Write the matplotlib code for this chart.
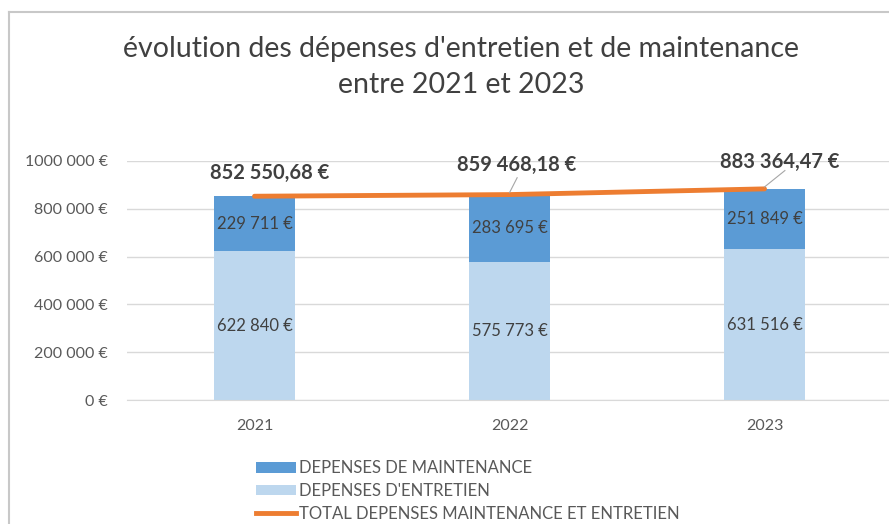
import matplotlib

matplotlib.use("Agg")
import matplotlib.pyplot as plt
from matplotlib.lines import Line2D
from matplotlib.patches import Patch

years = ["2021", "2022", "2023"]
entretien = [622840, 575773, 631516]
maintenance = [229711, 283695, 251849]
totals = [852550.68, 859468.18, 883364.47]
y_ticks = [0, 200000, 400000, 600000, 800000, 1000000]
y_tick_labels = ["0 €", "200 000 €", "400 000 €", "600 000 €", "800 000 €", "1000 000 €"]

C_MAINT = "#5B9BD5"
C_ENTR = "#BDD7EE"
C_TOTAL = "#ED7D31"
TXT = "#595959"
DARK = "#404040"

plt.rcParams["font.family"] = ["Lato", "DejaVu Sans"]


def euro(v):
    return f"{v:,.0f}".replace(",", " ") + " €"


def euro_dec(v):
    return f"{v:,.2f}".replace(",", " ").replace(".", ",") + " €"


W, H = 889, 524
fig = plt.figure(figsize=(W / 100, H / 100), dpi=100)

# chart area frame (top and left edges visible)
fig.add_artist(Line2D([9 / W, 9 / W], [0, 1 - 12 / H], color="#C8C8C8", lw=1.5))
fig.add_artist(Line2D([9 / W, 1], [1 - 12 / H, 1 - 12 / H], color="#C8C8C8", lw=1.5))

# plot area: x 127..892 px, y 161..400 px
ax = fig.add_axes([127 / W, 1 - 400 / H, 765 / W, 239 / H])
x = list(range(len(years)))
bw = 0.32
ax.bar(x, entretien, bw, color=C_ENTR, zorder=2)
ax.bar(x, maintenance, bw, bottom=entretien, color=C_MAINT, zorder=2)
ax.plot(x, totals, color=C_TOTAL, lw=3.5, solid_capstyle="round", zorder=3)

for i in x:
    ax.text(i, entretien[i] / 2, euro(entretien[i]), ha="center", va="center",
            fontsize=12, color=DARK, zorder=4)
    ax.text(i, entretien[i] + maintenance[i] / 2, euro(maintenance[i]), ha="center",
            va="center", fontsize=12, color=DARK, zorder=4)

# total labels with leader lines
label_pos = [(0.06, 952000), (0.03, 985000), (0.06, 995000)]
for i, (dx, ly) in enumerate(label_pos):
    ax.text(i + dx, ly, euro_dec(totals[i]), ha="center", va="center",
            fontsize=14.5, fontweight="bold", color=DARK, zorder=5, clip_on=False)
leaders = [(1, 1.03, 930000), (2, 2.08, 960000)]
for i, lx, ly in leaders:
    ax.plot([i, lx], [totals[i] + 8000, ly], color="#A6A6A6", lw=0.8, zorder=4)

ax.set_xlim(-0.5, 2.5)
ax.set_ylim(0, 1000000)
ax.set_yticks(y_ticks)
ax.set_yticklabels(y_tick_labels)
ax.set_xticks(x)
ax.set_xticklabels(years)
ax.tick_params(axis="both", length=0, colors=TXT, labelsize=11.5)
ax.tick_params(axis="y", pad=14)
ax.tick_params(axis="x", pad=14)
ax.yaxis.grid(True, color="#D9D9D9", lw=1, zorder=0)
for s in ["top", "right", "left"]:
    ax.spines[s].set_visible(False)
ax.spines["bottom"].set_color("#D9D9D9")
ax.set_facecolor("none")

fig.text(461 / W, 1 - 67 / H, "évolution des dépenses d'entretien et de maintenance\nentre 2021 et 2023",
         ha="center", va="center", fontsize=20.5, color=DARK, linespacing=1.45)

handles = [
    Patch(facecolor=C_MAINT, edgecolor="none"),
    Patch(facecolor=C_ENTR, edgecolor="none"),
    Line2D([0], [0], color=C_TOTAL, lw=3.5),
]
labels = [
    "DEPENSES DE MAINTENANCE",
    "DEPENSES D'ENTRETIEN",
    "TOTAL DEPENSES MAINTENANCE ET ENTRETIEN",
]
fig.legend(handles, labels, loc="upper left", bbox_to_anchor=(248 / W, 1 - 452 / H),
           frameon=False, fontsize=12, labelcolor=TXT, handlelength=2.4,
           handleheight=0.6, handletextpad=0.15, labelspacing=0.4, borderpad=0)

fig.savefig("out.png", dpi=100)
